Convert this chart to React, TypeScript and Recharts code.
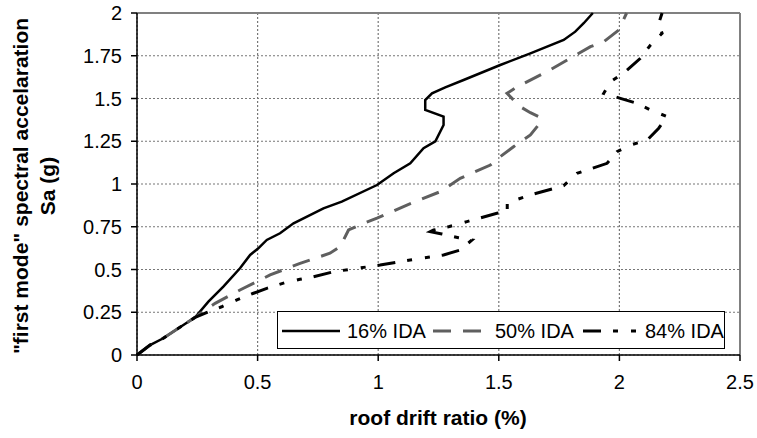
import { LineChart, Line, XAxis, YAxis, CartesianGrid, ReferenceLine, Legend } from "recharts";

const xTicks = [0, 0.5, 1, 1.5, 2, 2.5];
const yTicks = [0, 0.25, 0.5, 0.75, 1, 1.25, 1.5, 1.75, 2];

// 16% IDA curve (roof drift %, Sa g)
const ida16Drift = [0, 0.054, 0.109, 0.178, 0.241, 0.296, 0.358, 0.427, 0.469, 0.503, 0.538, 0.593, 0.649, 0.773, 0.849, 0.995, 1.064, 1.133, 1.188, 1.237, 1.271, 1.271, 1.195, 1.195, 1.223, 1.278, 1.354, 1.506, 1.631, 1.769, 1.817, 1.852, 1.89];
const ida16Sa = [0, 0.058, 0.098, 0.162, 0.22, 0.312, 0.4, 0.507, 0.585, 0.624, 0.673, 0.712, 0.77, 0.858, 0.897, 0.994, 1.063, 1.121, 1.209, 1.25, 1.345, 1.394, 1.433, 1.491, 1.53, 1.565, 1.608, 1.696, 1.764, 1.842, 1.891, 1.94, 2.0];

// 50% IDA curve
const ida50Drift = [0, 0.054, 0.109, 0.178, 0.241, 0.29, 0.324, 0.427, 0.552, 0.676, 0.8, 0.842, 0.877, 0.939, 0.995, 1.119, 1.257, 1.34, 1.465, 1.506, 1.561, 1.631, 1.67, 1.672, 1.631, 1.589, 1.534, 1.582, 1.7, 1.88, 1.935, 1.997, 2.03];
const ida50Sa = [0, 0.058, 0.098, 0.162, 0.22, 0.27, 0.302, 0.38, 0.468, 0.536, 0.595, 0.633, 0.731, 0.77, 0.8, 0.877, 0.955, 1.033, 1.111, 1.16, 1.218, 1.287, 1.355, 1.39, 1.417, 1.452, 1.53, 1.573, 1.657, 1.803, 1.832, 1.9, 2.0];

// 84% IDA curve
const ida84Drift = [0, 0.054, 0.109, 0.178, 0.241, 0.296, 0.351, 0.414, 0.483, 0.538, 0.614, 0.676, 0.732, 0.815, 1.008, 1.133, 1.271, 1.34, 1.389, 1.333, 1.264, 1.216, 1.23, 1.292, 1.368, 1.492, 1.535, 1.535, 1.631, 1.769, 1.824, 1.949, 1.99, 2.046, 2.115, 2.163, 2.198, 2.129, 2.073, 2.004, 1.935, 1.963, 2.025, 2.087, 2.129, 2.177, 2.163, 2.177];
const ida84Sa = [0, 0.058, 0.098, 0.162, 0.22, 0.253, 0.282, 0.322, 0.361, 0.39, 0.423, 0.443, 0.458, 0.487, 0.526, 0.556, 0.585, 0.614, 0.673, 0.686, 0.708, 0.721, 0.731, 0.75, 0.78, 0.829, 0.836, 0.89, 0.936, 0.99, 1.062, 1.121, 1.189, 1.228, 1.257, 1.326, 1.394, 1.433, 1.472, 1.501, 1.53, 1.598, 1.657, 1.735, 1.813, 1.881, 1.939, 2.0];

const toPoints = (xs: number[], ys: number[]) => xs.map((x, i) => ({ x, y: ys[i] }));

const ida16 = toPoints(ida16Drift, ida16Sa);
const ida50 = toPoints(ida50Drift, ida50Sa);
const ida84 = toPoints(ida84Drift, ida84Sa);

const GRAY = "#5f5f5f";
const DASH50 = "18 12";
const DASH84 = "18 12 5 13 5 12";

const renderLegend = () => (
  <svg width={448} height={38} style={{ display: "block" }}>
    <rect x={0.5} y={0.5} width={447} height={37} fill="#fff" stroke="#000" />
    <line x1={5} x2={63} y1={20} y2={20} stroke="#000" strokeWidth={2.5} />
    <text x={70} y={27} fontSize={20} fill="#000">16% IDA</text>
    <line x1={156} x2={206} y1={20} y2={20} stroke={GRAY} strokeWidth={3} strokeDasharray={DASH50} />
    <text x={218} y={27} fontSize={20} fill="#000">50% IDA</text>
    <line x1={306} x2={360} y1={20} y2={20} stroke="#000" strokeWidth={3} strokeDasharray={DASH84} />
    <text x={368} y={27} fontSize={20} fill="#000">84% IDA</text>
  </svg>
);

const yTitle = () => (
  <text transform="translate(28,186) rotate(-90)" textAnchor="middle" fontSize={21} fontWeight="bold" fill="#000">
    <tspan x={0} dy={0}>"first mode" spectral accelaration</tspan>
    <tspan x={0} dy={27}>Sa (g)</tspan>
  </text>
);

const xTitle = () => (
  <text x={438} y={425} textAnchor="middle" fontSize={21} fontWeight="bold" fill="#000">
    roof drift ratio (%)
  </text>
);

export default function App() {
  return (
    <div style={{ position: "absolute", left: 0, top: 0, fontFamily: "'Liberation Sans', Arial, sans-serif" }}>
      <LineChart width={757} height={438} margin={{ top: 13, right: 17, bottom: 0, left: 0 }}>
        <CartesianGrid stroke="#777" strokeDasharray="2 2" strokeWidth={1.2} />
        <XAxis
          type="number"
          dataKey="x"
          domain={[0, 2.5]}
          ticks={xTicks}
          height={83}
          axisLine={{ stroke: "#000", strokeWidth: 1.5 }}
          tickLine={{ stroke: "#000", strokeWidth: 1.5 }}
          tickSize={6}
          tickMargin={14}
          tick={{ fill: "#000", fontSize: 20 }}
          label={{ content: xTitle }}
        />
        <YAxis
          type="number"
          domain={[0, 2]}
          ticks={yTicks}
          width={137}
          axisLine={{ stroke: "#000", strokeWidth: 1.5 }}
          tickLine={{ stroke: "#000", strokeWidth: 1.5 }}
          tickSize={6}
          tickMargin={9}
          tick={{ fill: "#000", fontSize: 20 }}
          label={{ content: yTitle }}
        />
        <ReferenceLine y={2} stroke="#808080" strokeWidth={2} />
        <ReferenceLine x={2.5} stroke="#808080" strokeWidth={2} />
        <Line data={ida16} dataKey="y" type="linear" stroke="#000" strokeWidth={2.5} dot={false} activeDot={false} isAnimationActive={false} />
        <Line data={ida50} dataKey="y" type="linear" stroke={GRAY} strokeWidth={3} strokeDasharray={DASH50} dot={false} activeDot={false} isAnimationActive={false} />
        <Line data={ida84} dataKey="y" type="linear" stroke="#000" strokeWidth={3} strokeDasharray={DASH84} dot={false} activeDot={false} isAnimationActive={false} />
        <Legend
          layout="horizontal"
          verticalAlign="middle"
          align="center"
          wrapperStyle={{ left: 277, top: 311, width: 448, height: 38 }}
          content={renderLegend}
        />
      </LineChart>
    </div>
  );
}
